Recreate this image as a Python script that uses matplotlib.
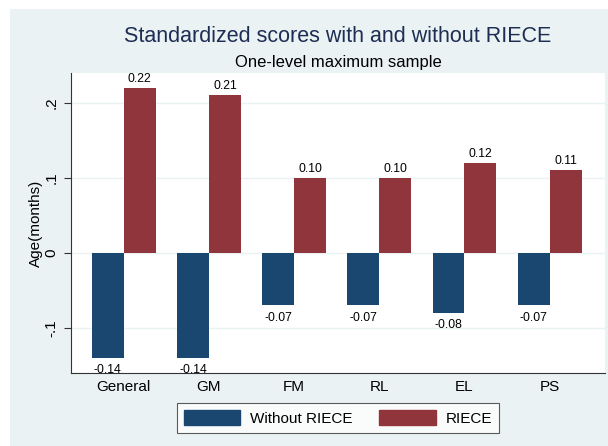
import matplotlib
matplotlib.use("Agg")
import matplotlib.pyplot as plt
from matplotlib.patches import Patch, Rectangle
import numpy as np

categories = ["General", "GM", "FM", "RL", "EL", "PS"]
without_riece = [-0.14, -0.14, -0.07, -0.07, -0.08, -0.07]
riece = [0.22, 0.21, 0.10, 0.10, 0.12, 0.11]
yticks = [-0.1, 0, 0.1, 0.2]
yticklabels = ["-.1", "0", ".1", ".2"]

plt.rcParams['font.family'] = ['Liberation Sans', 'DejaVu Sans']

W, H = 608, 446
fig = plt.figure(figsize=(W / 100, H / 100), dpi=100)
fig.patch.set_facecolor("white")
bg = "#EAF2F3"
fig.patches.append(Rectangle((10 / W, 0), 1 - 10 / W, 1 - 9 / H, transform=fig.transFigure,
                             facecolor=bg, edgecolor="none", zorder=-10))

l, r, t, b = 71, 605, 73, 373
ax = fig.add_axes([l / W, 1 - b / H, (r - l) / W, (b - t) / H])
ax.set_facecolor("white")

blue = "#1A476F"
red = "#90353B"
x = np.arange(len(categories))
w = 0.375
b1 = ax.bar(x - w / 2, without_riece, w, color=blue, label="Without RIECE", zorder=3)
b2 = ax.bar(x + w / 2, riece, w, color=red, label="RIECE", zorder=3)

for rect, v in zip(b1, without_riece):
    ax.annotate(f"{v:.2f}", (rect.get_x() + rect.get_width() / 2, v), xytext=(0, -4.5),
                textcoords="offset points", ha="center", va="top", fontsize=8.8, color="black",
                zorder=4, annotation_clip=False)
for rect, v in zip(b2, riece):
    ax.annotate(f"{v:.2f}", (rect.get_x() + rect.get_width() / 2, v), xytext=(0, 2.5),
                textcoords="offset points", ha="center", va="bottom", fontsize=8.8, color="black",
                zorder=4, annotation_clip=False)

ax.set_xlim(-0.62, 5.65)
ax.set_ylim(-0.16, 0.24)
ax.set_yticks(yticks)
ax.set_yticklabels(yticklabels, rotation=90, va="center", fontsize=11)
ax.set_xticks(x)
ax.set_xticklabels(categories, fontsize=11)
ax.tick_params(axis="x", length=0, pad=5)
ax.tick_params(axis="y", length=5, color="#333333", pad=4)
ax.grid(axis="y", color="#EAF2F3", linewidth=1.0, zorder=0)
for s in ["top", "right"]:
    ax.spines[s].set_visible(False)
for s in ["left", "bottom"]:
    ax.spines[s].set_color("#333333")
    ax.spines[s].set_linewidth(0.8)
ax.set_ylabel("Age(months)", fontsize=11, labelpad=1)

cx = (l + r) / 2 / W
fig.text(cx, 1 - 36 / H, "Standardized scores with and without RIECE", ha="center", va="center",
         fontsize=15.5, color="#1E2D53")
fig.text(cx, 1 - 62 / H, "One-level maximum sample", ha="center", va="center", fontsize=12, color="black")

handles = [Patch(facecolor=blue, edgecolor=blue), Patch(facecolor=red, edgecolor=red)]
leg = fig.legend(handles, ["Without RIECE", "RIECE"], loc="center", bbox_to_anchor=(cx, 1 - 418 / H),
                 ncol=2, fontsize=11, frameon=True, fancybox=False, handlelength=3.7, handleheight=1.05,
                 columnspacing=1.75, handletextpad=0.65, borderpad=0.45)
leg.get_frame().set_edgecolor("#333333")
leg.get_frame().set_linewidth(0.8)
leg.get_frame().set_facecolor("white")

fig.savefig("out.png", dpi=100)
